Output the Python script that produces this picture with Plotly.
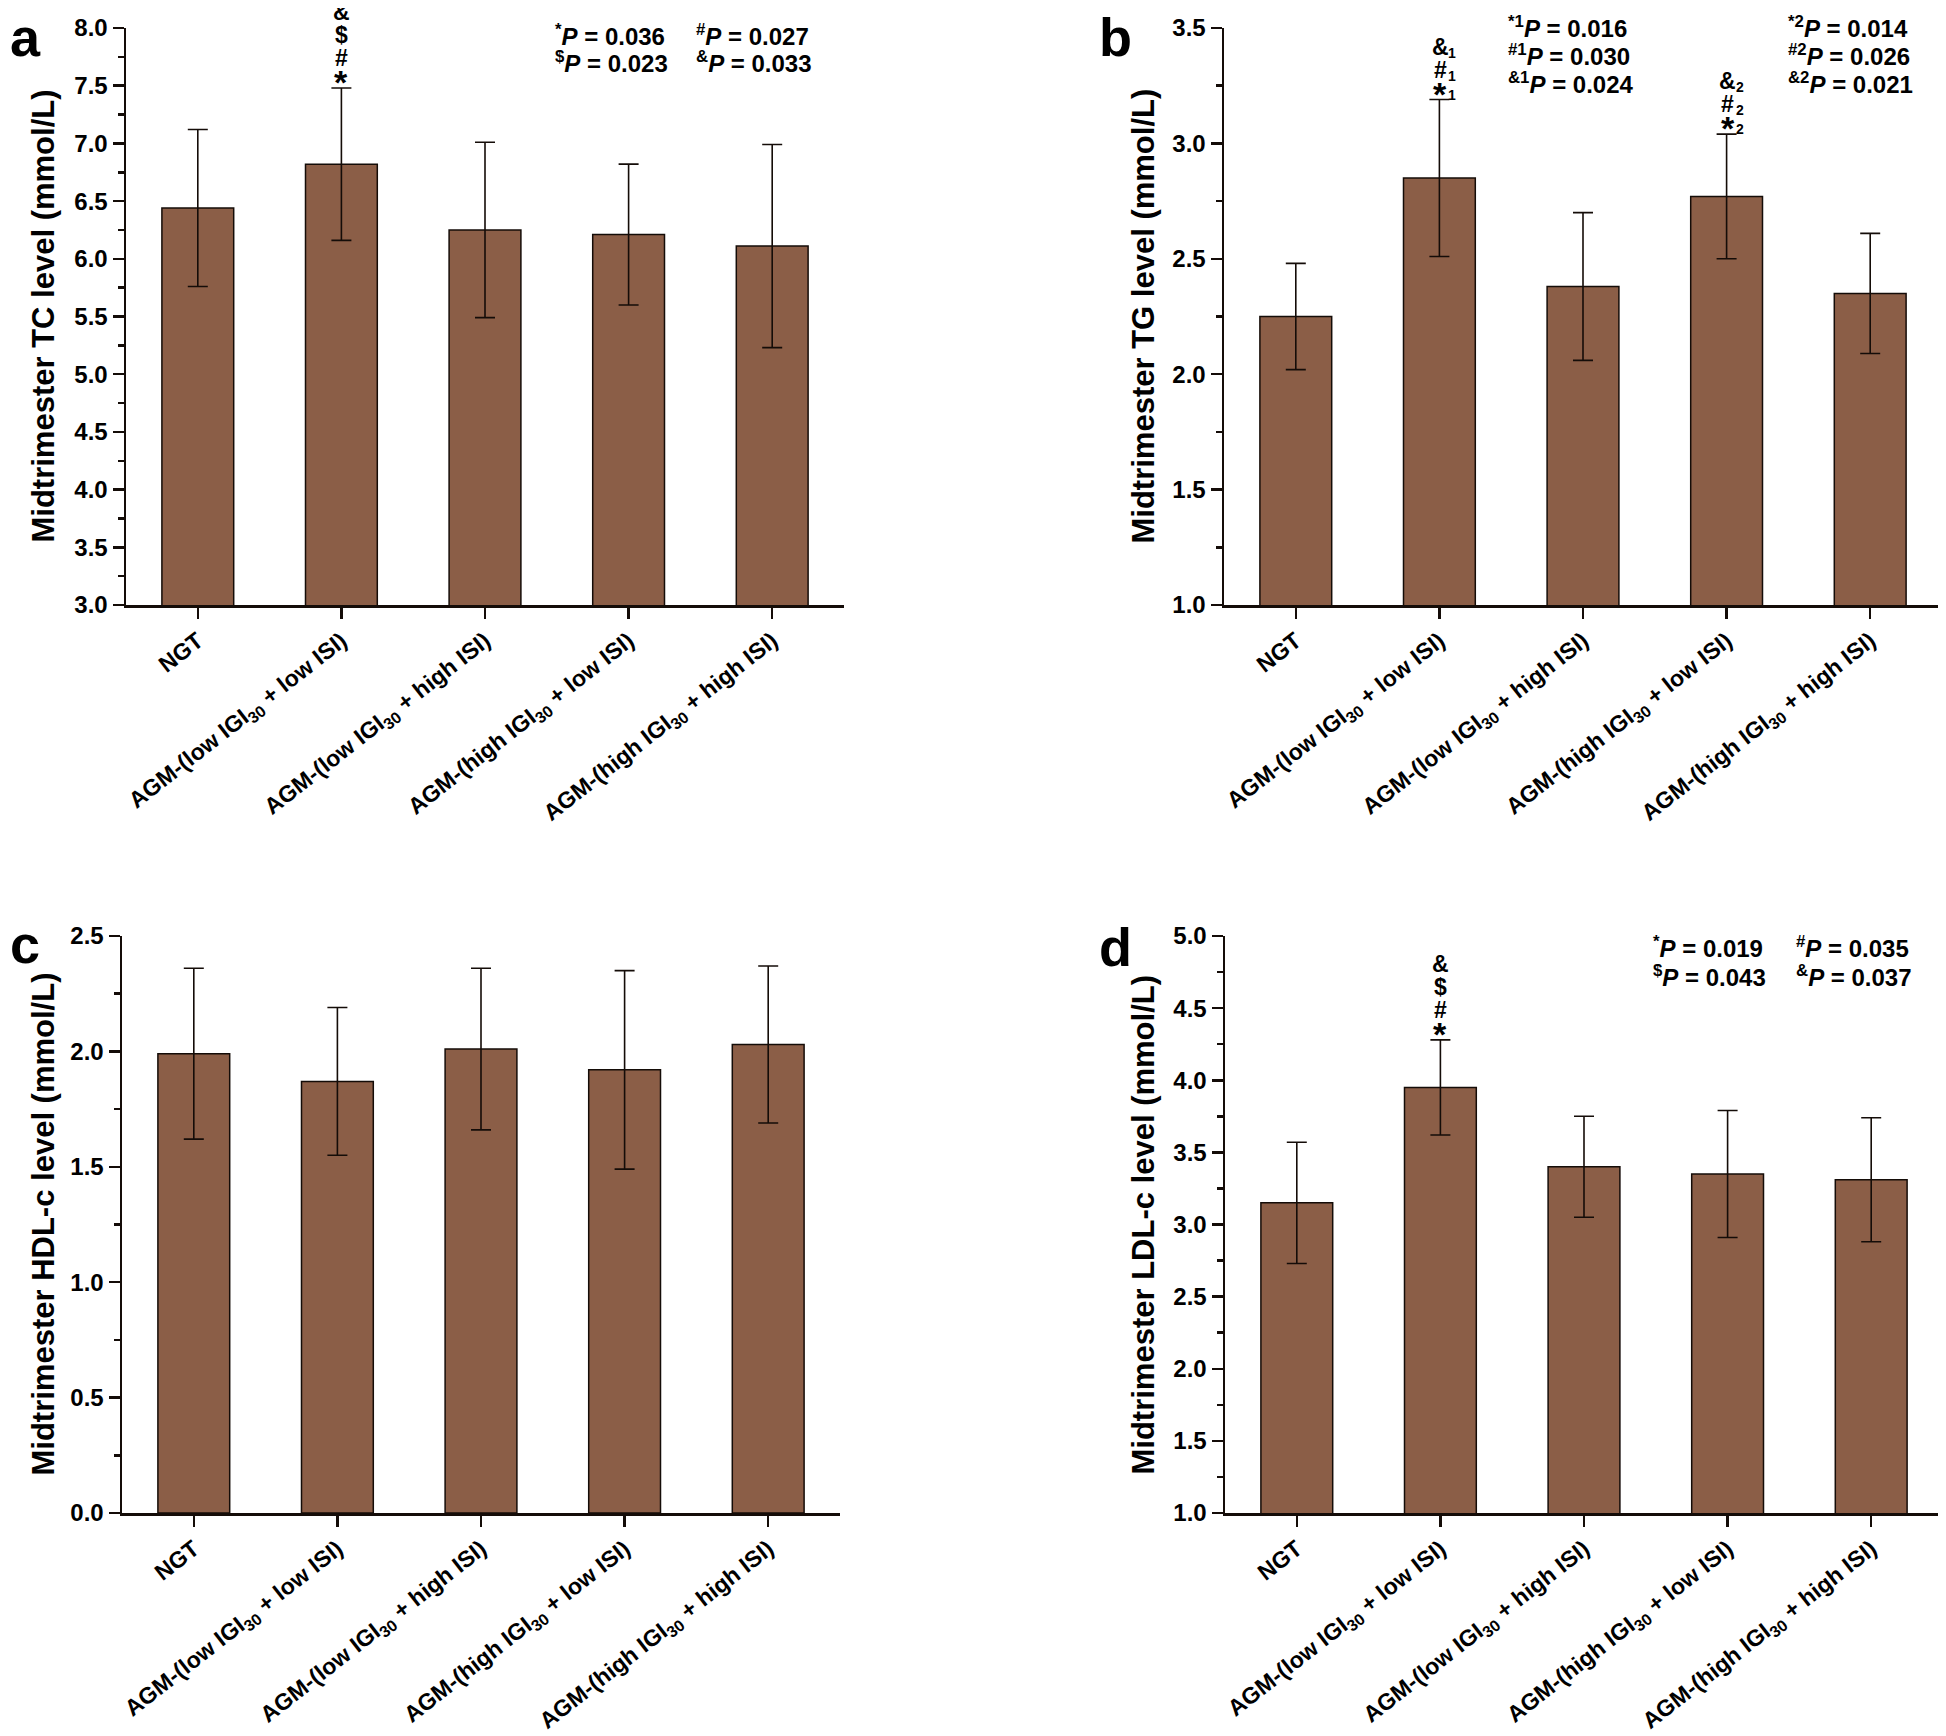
import plotly.graph_objects as go

W, H = 1946, 1736
OFF = 8                      # browser body margin
FW, FH = W - OFF, H - OFF

categories = [
    "NGT",
    "AGM-(low IGI<sub>30</sub> + low ISI)",
    "AGM-(low IGI<sub>30</sub> + high ISI)",
    "AGM-(high IGI<sub>30</sub> + low ISI)",
    "AGM-(high IGI<sub>30</sub> + high ISI)",
]

tc_mean = [6.44, 6.82, 6.25, 6.21, 6.11]
tc_sd = [0.68, 0.66, 0.76, 0.61, 0.88]
tg_mean = [2.25, 2.85, 2.38, 2.77, 2.35]
tg_sd = [0.23, 0.34, 0.32, 0.27, 0.26]
hdl_mean = [1.99, 1.87, 2.01, 1.92, 2.03]
hdl_sd = [0.37, 0.32, 0.35, 0.43, 0.34]
ldl_mean = [3.15, 3.95, 3.40, 3.35, 3.31]
ldl_sd = [0.42, 0.33, 0.35, 0.44, 0.43]

tc_ticks = ["3.0", "3.5", "4.0", "4.5", "5.0", "5.5", "6.0", "6.5", "7.0", "7.5", "8.0"]
tg_ticks = ["1.0", "1.5", "2.0", "2.5", "3.0", "3.5"]
hdl_ticks = ["0.0", "0.5", "1.0", "1.5", "2.0", "2.5"]
ldl_ticks = ["1.0", "1.5", "2.0", "2.5", "3.0", "3.5", "4.0", "4.5", "5.0"]

titles = [
    "Midtrimester TC level (mmol/L)",
    "Midtrimester TG level (mmol/L)",
    "Midtrimester HDL-c level (mmol/L)",
    "Midtrimester LDL-c level (mmol/L)",
]
panel_letters = ["a", "b", "c", "d"]

# significance markers: (bar index, [(symbol, subscript) bottom -> top])
sig_tc = [(1, [("*", ""), ("#", ""), ("$", ""), ("&", "")])]
sig_tg = [(1, [("*", "1"), ("#", "1"), ("&", "1")]),
          (3, [("*", "2"), ("#", "2"), ("&", "2")])]
sig_hdl = []
sig_ldl = [(1, [("*", ""), ("#", ""), ("$", ""), ("&", "")])]

# p-value text blocks: columns of rows
p_tc = [["<sup>*</sup><i>P</i> = 0.036", "<sup>$</sup><i>P</i> = 0.023"],
        ["<sup>#</sup><i>P</i> = 0.027", "<sup>&</sup><i>P</i> = 0.033"]]
p_tg = [["<sup>*1</sup><i>P</i> = 0.016", "<sup>#1</sup><i>P</i> = 0.030", "<sup>&1</sup><i>P</i> = 0.024"],
        ["<sup>*2</sup><i>P</i> = 0.014", "<sup>#2</sup><i>P</i> = 0.026", "<sup>&2</sup><i>P</i> = 0.021"]]
p_hdl = []
p_ldl = [["<sup>*</sup><i>P</i> = 0.019", "<sup>$</sup><i>P</i> = 0.043"],
         ["<sup>#</sup><i>P</i> = 0.035", "<sup>&</sup><i>P</i> = 0.037"]]

means = [tc_mean, tg_mean, hdl_mean, ldl_mean]
sds = [tc_sd, tg_sd, hdl_sd, ldl_sd]
ticks = [tc_ticks, tg_ticks, hdl_ticks, ldl_ticks]
sigs = [sig_tc, sig_tg, sig_hdl, sig_ldl]
pvals = [p_tc, p_tg, p_hdl, p_ldl]

# layout in window pixels (left, right, top, bottom) of each plot area
boxes = [(126, 844, 28, 605), (1224, 1942, 28, 605),
         (122, 840, 936, 1513), (1225, 1943, 936, 1513)]
title_x = [43, 1143, 43, 1143]
letter_pos = [(2, 37), (1097, 37), (2, 944), (1097, 947)]
p_cols = [[553, 694], [1506, 1786], [], [1651, 1794]]
p_rows = [[35, 62], [27, 55, 83], [], [947, 976]]
sig_step = [23, 23, 0, 23]

FONT = "Liberation Sans, Arial, sans-serif"
BAR = "#8b5e47"
INK = "#140c08"


def px(x):
    return min(1.0, max(0.0, (x - OFF) / FW))


def py(y):
    return min(1.0, max(0.0, 1 - (y - OFF) / FH))


fig = go.Figure()
annotations = []
layout = {}
for i in range(4):
    sfx = "" if i == 0 else str(i + 1)
    xa, ya = "x" + sfx, "y" + sfx
    l, r, t, b = boxes[i]
    fig.add_trace(go.Bar(
        x=list(range(len(categories))), y=means[i], xaxis=xa, yaxis=ya,
        width=0.5, marker=dict(color=BAR, line=dict(color=INK, width=1.5)),
        error_y=dict(type="data", array=sds[i], visible=True, color=INK,
                     thickness=1.6, width=10),
        showlegend=False, hoverinfo="skip",
    ))
    layout["xaxis" + sfx] = dict(
        domain=[px(l), px(r)], anchor=ya, range=[-0.5, 4.5], automargin=False,
        tickmode="array", tickvals=list(range(len(categories))),
        ticktext=["<b>%s</b>" % c for c in categories],
        tickangle=-38, ticks="outside", ticklen=11, tickwidth=2.5, tickcolor=INK,
        showline=True, linecolor=INK, linewidth=2.5, showgrid=False, zeroline=False,
        tickfont=dict(family=FONT, size=23, color="black"),
        fixedrange=True,
    )
    tv = [float(s) for s in ticks[i]]
    layout["yaxis" + sfx] = dict(
        domain=[py(b), py(t)], anchor=xa, range=[tv[0], tv[-1]], automargin=False,
        tickmode="array", tickvals=tv, ticktext=["<b>%s</b>" % s for s in ticks[i]],
        ticks="outside", ticklen=11, tickwidth=2.5, tickcolor=INK,
        minor=dict(dtick=0.25, tick0=0, ticks="outside", ticklen=6, tickwidth=2.5,
                   tickcolor=INK),
        showline=True, linecolor=INK, linewidth=2.5, showgrid=False, zeroline=False,
        tickfont=dict(family=FONT, size=24, color="black"),
        fixedrange=True,
    )
    # y title
    annotations.append(dict(
        x=px(title_x[i]), y=py((t + b) / 2), xref="paper", yref="paper",
        text="<b>%s</b>" % titles[i], textangle=-90, showarrow=False,
        xanchor="center", yanchor="middle",
        font=dict(family=FONT, size=31, color="black"),
    ))
    # panel letter
    lx, ly = letter_pos[i]
    annotations.append(dict(
        x=px(lx), y=py(ly), xref="paper", yref="paper",
        text="<b>%s</b>" % panel_letters[i], showarrow=False,
        xanchor="left", yanchor="middle",
        font=dict(family=FONT, size=54, color="black"),
    ))
    # significance markers
    for idx, syms in sigs[i]:
        top = means[i][idx] + sds[i][idx]
        for k, (sym, sub) in enumerate(syms):
            star = sym == "*"
            ys = -15 if star else 15 + sig_step[i] * (k - 1)
            annotations.append(dict(
                x=idx, y=top, xref=xa, yref=ya, text="<b>%s</b>" % sym,
                showarrow=False, xanchor="center", yanchor="bottom",
                xshift=(1 if sub else 0), yshift=ys,
                font=dict(family=FONT, size=(34 if star else 23), color="black"),
            ))
            if sub:
                annotations.append(dict(
                    x=idx, y=top, xref=xa, yref=ya, text="<b>%s</b>" % sub,
                    showarrow=False, xanchor="center", yanchor="bottom",
                    xshift=13, yshift=(-5 if star else ys - 1),
                    font=dict(family=FONT, size=14, color="black"),
                ))
    # p-values
    for c, col in enumerate(pvals[i]):
        for rr, txt in enumerate(col):
            annotations.append(dict(
                x=px(p_cols[i][c]), y=py(p_rows[i][rr]), xref="paper", yref="paper",
                text="<b>%s</b>" % txt, showarrow=False,
                xanchor="left", yanchor="middle",
                font=dict(family=FONT, size=24, color="black"),
            ))

fig.update_layout(
    width=FW, height=FH, margin=dict(l=0, r=0, t=0, b=0, autoexpand=False),
    paper_bgcolor="white", plot_bgcolor="white",
    annotations=annotations, **layout,
)
fig.write_html("out.html", config={"staticPlot": True})
